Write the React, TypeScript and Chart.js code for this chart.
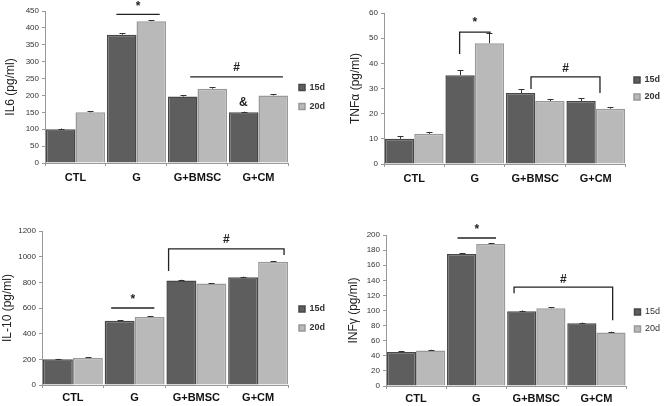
import React, { useEffect, useRef } from 'react';
import { Chart, registerables } from 'chart.js';
Chart.register(...registerables);

const categories = ['CTL', 'G', 'G+BMSC', 'G+CM'];
const seriesLabels = ['15d', '20d'];

const il6Values15 = [100, 380, 197, 150];
const il6Values20 = [150, 420, 220, 200];
const il6Err15 = [2, 4, 4, 2];
const il6Err20 = [3, 3, 5, 3];

const tnfValues15 = [10, 35.3, 28.2, 25];
const tnfValues20 = [12, 48, 25, 22];
const tnfErr15 = [1, 2, 1.6, 1.2];
const tnfErr20 = [0.7, 4, 0.7, 0.6];

const il10Values15 = [200, 500, 815, 840];
const il10Values20 = [210, 530, 790, 960];
const il10Err15 = [4, 4, 5, 4];
const il10Err20 = [5, 5, 5, 5];

const infValues15 = [45, 175, 99, 83];
const infValues20 = [47, 188, 103, 71];
const infErr15 = [1, 1, 1, 1];
const infErr20 = [1, 1, 1, 1];

// annotations: lines / brackets in data units, category index + fractional offset
const il6Marks = [
  { kind: 'line', c1: 1, o1: -0.33, c2: 1, o2: 0.38, y: 440, label: '*', labelY: 463 },
  { kind: 'line', c1: 2, o1: -0.12, c2: 3, o2: 0.4, y: 255, label: '#', labelY: 281 },
  { kind: 'text', c1: 3, o1: -0.25, label: '&', labelY: 180 },
];
const tnfMarks = [
  { kind: 'bracket', c1: 1, o1: -0.25, c2: 1, o2: 0.25, y: 52.4, yl: 43.7, yr: 51.8, label: '*', labelY: 56 },
  { kind: 'bracket', c1: 2, o1: -0.07, c2: 3, o2: 0.07, y: 34.6, yl: 29.8, yr: 28.2, label: '#', labelY: 38 },
];
const il10Marks = [
  { kind: 'line', c1: 1, o1: -0.38, c2: 1, o2: 0.32, y: 600, label: '*', labelY: 662 },
  { kind: 'bracket', c1: 2, o1: -0.45, c2: 3, o2: 0.42, y: 1060, yl: 888, yr: 1013, label: '#', labelY: 1130 },
];
const infMarks = [
  { kind: 'line', c1: 1, o1: -0.31, c2: 1, o2: 0.33, y: 196, label: '*', labelY: 207 },
  { kind: 'bracket', c1: 2, o1: -0.37, c2: 3, o2: 0.27, y: 131, yl: 123, yr: 87, label: '#', labelY: 141 },
];

const FONT = "Arial, 'Liberation Sans', sans-serif";
const DARK = '#5e5e5e';
const DARK_B = '#474747';
const LIGHT = '#b9b9b9';
const LIGHT_B = '#999999';

const errorBarPlugin = {
  id: 'errorBars',
  afterDatasetsDraw(chart: any) {
    const errs = chart.options.plugins.errorBars?.errors || [];
    const ctx = chart.ctx;
    const yScale = chart.scales.y;
    ctx.save();
    ctx.strokeStyle = '#333';
    ctx.lineWidth = 1;
    chart.data.datasets.forEach((ds: any, di: number) => {
      const meta = chart.getDatasetMeta(di);
      meta.data.forEach((el: any, i: number) => {
        const e = errs[di]?.[i];
        if (e == null) return;
        const top = yScale.getPixelForValue(ds.data[i] + e);
        const x = Math.round(el.x) + 0.5;
        ctx.beginPath();
        ctx.moveTo(x, el.y);
        ctx.lineTo(x, top);
        ctx.moveTo(x - 3, Math.round(top) + 0.5);
        ctx.lineTo(x + 3, Math.round(top) + 0.5);
        ctx.stroke();
      });
    });
    ctx.restore();
  },
};

const marksPlugin = {
  id: 'sigMarks',
  afterDraw(chart: any) {
    const marks = chart.options.plugins.sigMarks?.marks || [];
    const ctx = chart.ctx;
    const xs = chart.scales.x;
    const ys = chart.scales.y;
    const cw = xs.width / categories.length;
    const px = (c: number, o: number) => xs.getPixelForValue(c) + o * cw;
    ctx.save();
    ctx.strokeStyle = '#222';
    ctx.fillStyle = '#222';
    ctx.lineWidth = 1.3;
    marks.forEach((m: any) => {
      if (m.kind === 'line') {
        const y = ys.getPixelForValue(m.y);
        ctx.beginPath();
        ctx.moveTo(px(m.c1, m.o1), y);
        ctx.lineTo(px(m.c2, m.o2), y);
        ctx.stroke();
      } else if (m.kind === 'bracket') {
        const y = ys.getPixelForValue(m.y);
        ctx.beginPath();
        ctx.moveTo(px(m.c1, m.o1), ys.getPixelForValue(m.yl));
        ctx.lineTo(px(m.c1, m.o1), y);
        ctx.lineTo(px(m.c2, m.o2), y);
        ctx.lineTo(px(m.c2, m.o2), ys.getPixelForValue(m.yr));
        ctx.stroke();
      }
      ctx.font = `bold 12px ${FONT}`;
      ctx.textAlign = 'center';
      ctx.textBaseline = 'middle';
      let lx: number;
      if (m.kind === 'text') lx = px(m.c1, m.o1);
      else lx = (px(m.c1, m.o1) + px(m.c2, m.o2)) / 2;
      ctx.fillText(m.label, lx, ys.getPixelForValue(m.labelY));
    });
    ctx.restore();
  },
};

type PanelProps = {
  left: number;
  top: number;
  title: string;
  v15: number[];
  v20: number[];
  e15: number[];
  e20: number[];
  marks: any[];
  max: number;
  step: number;
  axisWidth: number;
  titlePad: number;
  padTop: number;
  padRight: number;
  padBottom: number;
  xHeight: number;
  xPad: number;
  legendFull: boolean;
  legendGap: number;
  bold: boolean;
};

function Panel(p: PanelProps) {
  const ref = useRef<HTMLCanvasElement | null>(null);
  useEffect(() => {
    if (!ref.current) return;
    const chart = new Chart(ref.current, {
      type: 'bar',
      data: {
        labels: categories,
        datasets: [
          {
            label: seriesLabels[0],
            data: p.v15,
            backgroundColor: DARK,
            borderColor: DARK_B,
            borderWidth: 1.5,
            borderSkipped: 'bottom',
          },
          {
            label: seriesLabels[1],
            data: p.v20,
            backgroundColor: LIGHT,
            borderColor: LIGHT_B,
            borderWidth: 1.5,
            borderSkipped: 'bottom',
          },
        ],
      },
      options: {
        responsive: false,
        animation: false,
        events: [],
        datasets: { bar: { categoryPercentage: 0.97, barPercentage: 1 } },
        layout: { padding: { top: p.padTop, right: p.padRight, left: 0, bottom: p.padBottom } },
        scales: {
          x: {
            afterFit: (s: any) => { s.height = p.xHeight; },
            grid: { display: true, drawOnChartArea: false, tickLength: 3, color: '#999', offset: true },
            border: { color: '#999' },
            ticks: {
              padding: p.xPad,
              color: '#111',
              font: { family: FONT, size: 11, weight: 'bold' },
            },
          },
          y: {
            min: 0,
            max: p.max,
            afterFit: (s: any) => { s.width = p.axisWidth; },
            grid: { display: true, drawOnChartArea: false, tickLength: 3, color: '#999' },
            border: { color: '#999' },
            ticks: {
              stepSize: p.step,
              padding: 3,
              color: '#333',
              font: { family: FONT, size: 8 },
              callback: (v: any) => String(v),
            },
            title: {
              display: true,
              text: p.title,
              color: '#222',
              padding: { top: p.titlePad, bottom: 0 },
              font: { family: FONT, size: 12 },
            },
          },
        },
        plugins: {
          legend: {
            position: 'right',
            fullSize: p.legendFull,
            labels: {
              boxWidth: 6,
              boxHeight: 6,
              padding: p.legendGap,
              color: '#333',
              font: { family: FONT, size: 9, weight: p.bold ? 'bold' : 'normal' },
            },
          },
          tooltip: { enabled: false },
          errorBars: { errors: [p.e15, p.e20] },
          sigMarks: { marks: p.marks },
        } as any,
      },
      plugins: [errorBarPlugin, marksPlugin],
    } as any);
    return () => chart.destroy();
  }, []);
  return (
    <canvas
      ref={ref}
      width={335}
      height={203}
      style={{ position: 'absolute', left: p.left, top: p.top, width: 335, height: 203 }}
    />
  );
}

export default function App() {
  return (
    <div style={{ position: 'absolute', left: 0, top: 0, width: 670, height: 406, background: '#fff' }}>
      <Panel left={0} top={0} title="IL6 (pg/ml)" v15={il6Values15} v20={il6Values20} e15={il6Err15} e20={il6Err20}
        marks={il6Marks} max={450} step={50} axisWidth={45} titlePad={3} padTop={11} padRight={0} padBottom={20}
        xHeight={20} xPad={5} legendFull={true} legendGap={10} bold={true} />
      <Panel left={335} top={0} title="TNFα (pg/ml)" v15={tnfValues15} v20={tnfValues20} e15={tnfErr15} e20={tnfErr20}
        marks={tnfMarks} max={60} step={10} axisWidth={49} titlePad={13} padTop={13} padRight={0} padBottom={0}
        xHeight={39} xPad={5} legendFull={false} legendGap={8} bold={true} />
      <Panel left={0} top={203} title="IL-10 (pg/ml)" v15={il10Values15} v20={il10Values20} e15={il10Err15} e20={il10Err20}
        marks={il10Marks} max={1200} step={200} axisWidth={42} titlePad={0} padTop={28} padRight={0} padBottom={0}
        xHeight={21} xPad={3} legendFull={true} legendGap={10} bold={true} />
      <Panel left={335} top={203} title="INFγ (pg/ml)" v15={infValues15} v20={infValues20} e15={infErr15} e20={infErr20}
        marks={infMarks} max={200} step={20} axisWidth={51} titlePad={11} padTop={32} padRight={0} padBottom={0}
        xHeight={20} xPad={3} legendFull={true} legendGap={8} bold={false} />
    </div>
  );
}
